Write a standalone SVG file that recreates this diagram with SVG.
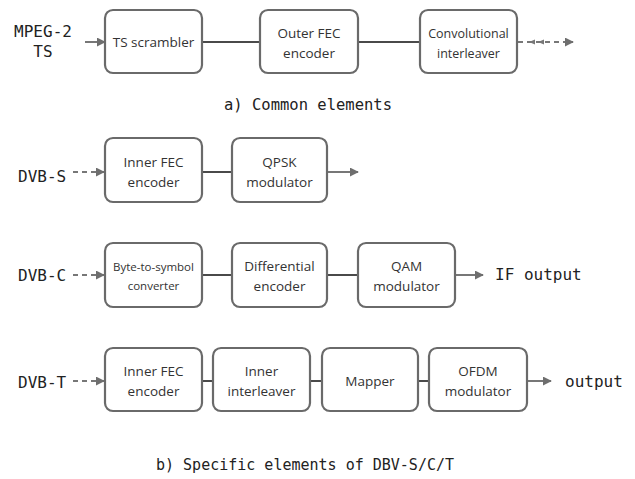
<svg xmlns="http://www.w3.org/2000/svg" width="635" height="479" viewBox="0 0 635 479">
<defs>
<marker id="ah" viewBox="0 0 10 10" refX="9" refY="5" markerWidth="9" markerHeight="9" markerUnits="userSpaceOnUse" orient="auto">
<path d="M0,0 L10,5 L0,10 z" fill="#6e6e6e"/>
</marker>
<style>
.box{fill:#fff;stroke:#6a6a6a;stroke-width:2.2}
.bt{font-family:"Open Sans","DejaVu Sans",sans-serif;font-size:13.5px;fill:#333;text-anchor:middle}
.sm{font-size:11.5px}
.md{font-size:12.5px}
.mono{font-family:"DejaVu Sans Mono","Liberation Mono",monospace;font-size:16px;fill:#222}
.ln{stroke:#4a4a4a;stroke-width:2;fill:none}
.ar{stroke:#777;stroke-width:2;fill:none;marker-end:url(#ah)}
.da{stroke:#777;stroke-width:2;fill:none;stroke-dasharray:5,4;marker-end:url(#ah)}
</style>
</defs>

<g id="connectors">
<line class="ar" x1="85" y1="42" x2="105" y2="42"/>
<line class="ln" x1="202" y1="42" x2="260" y2="42"/>
<line class="ln" x1="358" y1="42" x2="420" y2="42"/>
<line class="da" x1="518" y1="42" x2="573" y2="42"/>
<path d="M529,42 L535,39.5 L535,44.5 z M538,42 L544,39.5 L544,44.5 z" fill="#777"/>

<line class="da" x1="73" y1="172" x2="104" y2="172"/>
<line class="ln" x1="202" y1="172" x2="232" y2="172"/>
<line class="ar" x1="327" y1="172" x2="358" y2="172"/>

<line class="da" x1="73" y1="275" x2="104" y2="275"/>
<line class="ln" x1="202" y1="275" x2="232" y2="275"/>
<line class="ln" x1="327" y1="275" x2="358" y2="275"/>
<line class="ar" x1="455" y1="275" x2="483" y2="275"/>

<line class="da" x1="73" y1="381" x2="104" y2="381"/>
<line class="ln" x1="202" y1="381" x2="213" y2="381"/>
<line class="ln" x1="310" y1="381" x2="322" y2="381"/>
<line class="ln" x1="418" y1="381" x2="429" y2="381"/>
<line class="ar" x1="527" y1="381" x2="551" y2="381"/>
</g>

<g id="labels">
<text class="mono" x="43" y="37" text-anchor="middle">MPEG-2</text>
<text class="mono" x="43" y="57" text-anchor="middle">TS</text>
<text class="mono" x="18" y="182">DVB-S</text>
<text class="mono" x="18" y="281">DVB-C</text>
<text class="mono" x="18" y="388">DVB-T</text>
<text class="mono" x="495" y="280">IF output</text>
<text class="mono" x="565" y="387">output</text>
<text class="mono" x="308" y="110" text-anchor="middle" style="font-size:15.5px">a) Common elements</text>
<text class="mono" x="305" y="470" text-anchor="middle" style="font-size:15px">b) Specific elements of DBV-S/C/T</text>
</g>

<g id="ts-scrambler">
<rect class="box" x="105" y="10" width="97" height="63" rx="8"/>
<text class="bt" x="153.5" y="47">TS scrambler</text>
</g>
<g id="outer-fec">
<rect class="box" x="260" y="10" width="98" height="63" rx="8"/>
<text class="bt" x="309" y="38">Outer FEC</text>
<text class="bt" x="309" y="58">encoder</text>
</g>
<g id="conv-interleaver">
<rect class="box" x="420" y="10" width="97" height="63" rx="8"/>
<text class="bt md" x="468.5" y="38">Convolutional</text>
<text class="bt md" x="468.5" y="58">interleaver</text>
</g>

<g id="s-inner-fec">
<rect class="box" x="105" y="138" width="97" height="64" rx="8"/>
<text class="bt" x="153.5" y="167">Inner FEC</text>
<text class="bt" x="153.5" y="187">encoder</text>
</g>
<g id="s-qpsk">
<rect class="box" x="232" y="138" width="95" height="64" rx="8"/>
<text class="bt" x="279.5" y="167">QPSK</text>
<text class="bt" x="279.5" y="187">modulator</text>
</g>

<g id="c-byte-to-symbol">
<rect class="box" x="105" y="243" width="97" height="64" rx="8"/>
<text class="bt sm" x="153.5" y="271">Byte-to-symbol</text>
<text class="bt sm" x="153.5" y="290">converter</text>
</g>
<g id="c-differential">
<rect class="box" x="232" y="243" width="95" height="64" rx="8"/>
<text class="bt" x="279.5" y="271">Differential</text>
<text class="bt" x="279.5" y="291">encoder</text>
</g>
<g id="c-qam">
<rect class="box" x="358" y="243" width="97" height="64" rx="8"/>
<text class="bt" x="406.5" y="271">QAM</text>
<text class="bt" x="406.5" y="291">modulator</text>
</g>

<g id="t-inner-fec">
<rect class="box" x="105" y="348" width="97" height="63" rx="8"/>
<text class="bt" x="153.5" y="376">Inner FEC</text>
<text class="bt" x="153.5" y="396">encoder</text>
</g>
<g id="t-inner-interleaver">
<rect class="box" x="213" y="348" width="97" height="63" rx="8"/>
<text class="bt" x="261.5" y="376">Inner</text>
<text class="bt" x="261.5" y="396">interleaver</text>
</g>
<g id="t-mapper">
<rect class="box" x="322" y="348" width="96" height="63" rx="8"/>
<text class="bt" x="370" y="386">Mapper</text>
</g>
<g id="t-ofdm">
<rect class="box" x="429" y="348" width="98" height="63" rx="8"/>
<text class="bt" x="478" y="376">OFDM</text>
<text class="bt" x="478" y="396">modulator</text>
</g>
</svg>
